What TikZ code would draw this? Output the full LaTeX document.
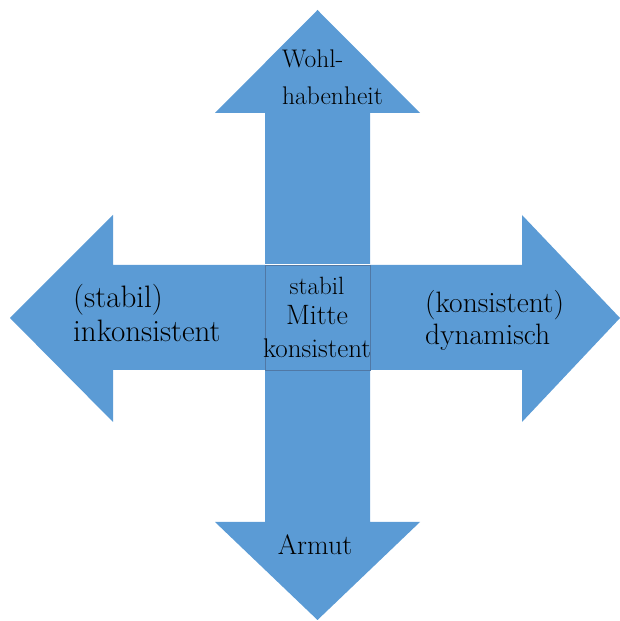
\documentclass[tikz,border=0pt]{standalone}
\usepackage{tikz}
\usetikzlibrary{positioning}
\definecolor{pfeilblau}{RGB}{91,155,213}
\definecolor{randblau}{RGB}{80,120,165}

\begin{document}
\begin{tikzpicture}[x=1pt,y=1pt,
  pfeil/.style={fill=pfeilblau},
  txt/.style={inner sep=0pt,text=black,align=left},
  mitte/.style={inner sep=0pt,text=black}]
\useasboundingbox (0,0) rectangle (620,621);
% the four arrows
\fill [pfeil] (265,357) -- (265,508) -- (215,508) -- (317.5,611) -- (420,508) -- (370,508) -- (370,357) -- cycle;
\fill [pfeil] (265,356) -- (113,356) -- (113,406) -- (10,303) -- (113,199) -- (113,251) -- (265,251) -- cycle;
\fill [pfeil] (370,356) -- (522,356) -- (522,406) -- (620,303) -- (522,199) -- (522,251) -- (370,251) -- cycle;
\fill [pfeil] (265,251) -- (265,99) -- (215,99) -- (317.5,1) -- (420,99) -- (370,99) -- (370,251) -- cycle;
\draw [pfeil,draw=randblau,line width=0.6pt] (265,251) rectangle (370,356);
% labels (base = last line)
\node [txt,anchor=base west,font=\fontsize{25.5}{37}\selectfont] (nord) at (282,516) {Wohl-\\habenheit};
\node [txt,anchor=base west,font=\fontsize{31}{34}\selectfont] (west) at (73,279) {(stabil)\\inkonsistent};
\node [txt,anchor=base west,font=\fontsize{29.5}{32}\selectfont] (ost) at (425,276) {(konsistent)\\dynamisch};
\node [mitte,anchor=base,font=\fontsize{28}{30}\selectfont] (sued) at (315,66) {Armut};
\node [mitte,anchor=base,font=\fontsize{25}{28}\selectfont] (m1) at (317,326) {stabil};
\node [mitte,anchor=base,font=\fontsize{28}{30}\selectfont] (m2) at (317,296) {Mitte};
\node [mitte,anchor=base,font=\fontsize{27}{28}\selectfont] (m3) at (317,263) {konsistent};
\end{tikzpicture}
\end{document}
